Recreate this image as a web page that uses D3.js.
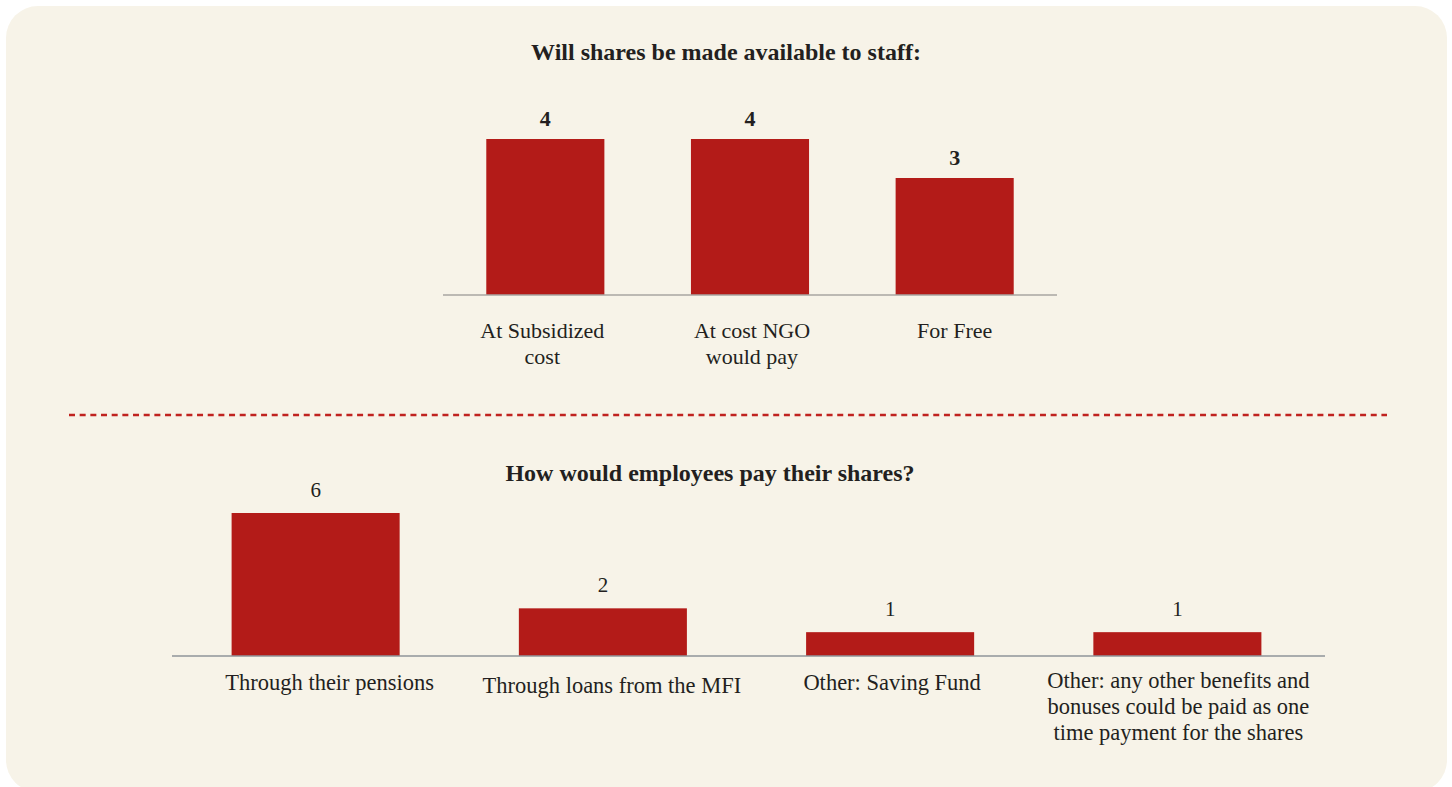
<!DOCTYPE html>
<html>
<head>
<meta charset="utf-8">
<script src="https://cdn.jsdelivr.net/npm/d3@7"></script>
<style>
  html, body { margin: 0; padding: 0; background: #ffffff; }
  svg { display: block; }
  text { font-family: "Liberation Serif", "Times New Roman", serif; fill: #231f20; }
</style>
</head>
<body>
<svg id="chart" width="1452" height="787"></svg>
<script>
// Survey results: share availability to staff
const shareCategories = [["At Subsidized", "cost"], ["At cost NGO", "would pay"], ["For Free"]];
const shareValues = [4, 4, 3];
const shareTitle = "Will shares be made available to staff:";

// Survey results: payment methods
const payCategories = [
  ["Through their pensions"],
  ["Through loans from the MFI"],
  ["Other: Saving Fund"],
  ["Other: any other benefits and", "bonuses could be paid as one", "time payment for the shares"]
];
const payValues = [6, 2, 1, 1];
const payTitle = "How would employees pay their shares?";

const BAR = "#b31b18";
const svg = d3.select("#chart");

// Panel background
svg.append("rect")
  .attr("x", 6).attr("y", 6)
  .attr("width", 1441).attr("height", 786)
  .attr("rx", 32).attr("ry", 32)
  .attr("fill", "#f7f3e8");

function barChart(cfg) {
  const g = svg.append("g");
  const keys = cfg.values.map((d, i) => i);
  const x = d3.scaleBand().domain(keys).range([cfg.x0, cfg.x1])
    .paddingInner(cfg.pad).paddingOuter(cfg.pad / 2);
  const y = d3.scaleLinear().domain([0, cfg.max]).range([cfg.base, cfg.top]);
  const dx = i => (cfg.labelDx ? cfg.labelDx[i] : 0);
  const dy = i => (cfg.labelDy ? cfg.labelDy[i] : 0);

  g.append("text")
    .attr("x", cfg.titleX).attr("y", cfg.titleY)
    .attr("text-anchor", "middle")
    .attr("font-weight", "bold")
    .attr("font-size", cfg.titleSize)
    .text(cfg.title);

  g.selectAll("rect.bar").data(cfg.values).join("rect")
    .attr("class", "bar")
    .attr("x", (d, i) => x(i))
    .attr("width", x.bandwidth())
    .attr("y", d => y(d))
    .attr("height", d => y(0) - y(d))
    .attr("fill", BAR);

  // category baseline
  g.append("line")
    .attr("x1", cfg.x0).attr("x2", cfg.axisEnd)
    .attr("y1", y(0)).attr("y2", y(0))
    .attr("stroke", cfg.axisColor).attr("stroke-width", 1.6);

  g.selectAll("text.val").data(cfg.values).join("text")
    .attr("class", "val")
    .attr("x", (d, i) => x(i) + x.bandwidth() / 2)
    .attr("y", d => y(d) - cfg.valGap)
    .attr("text-anchor", "middle")
    .attr("font-size", cfg.valSize)
    .attr("font-weight", cfg.valWeight)
    .text(d => d);

  const lbl = g.selectAll("text.cat").data(cfg.categories).join("text")
    .attr("class", "cat")
    .attr("x", (d, i) => x(i) + x.bandwidth() / 2 + dx(i))
    .attr("y", (d, i) => y(0) + cfg.labelGap + dy(i))
    .attr("text-anchor", "middle")
    .attr("font-size", cfg.labelSize);
  lbl.selectAll("tspan").data(d => d).join("tspan")
    .attr("x", function () { return this.parentNode.getAttribute("x"); })
    .attr("dy", (d, i) => i === 0 ? 0 : cfg.lineH)
    .text(d => d);
}

barChart({
  title: shareTitle, titleX: 726, titleY: 60, titleSize: 24,
  values: shareValues, categories: shareCategories, max: 4,
  x0: 443, x1: 1057, axisEnd: 1057, pad: 0.423, base: 295, top: 139,
  axisColor: "#a8a6a2", valGap: 13, valSize: 22, valWeight: "bold",
  labelGap: 43, labelSize: 22, lineH: 26, labelDx: [-3, 2, 0]
});

// dashed separator
svg.append("line")
  .attr("x1", 69).attr("x2", 1387)
  .attr("y1", 415).attr("y2", 415)
  .attr("stroke", "#c0221f")
  .attr("stroke-width", 2.5)
  .attr("stroke-dasharray", "6 4.67");

barChart({
  title: payTitle, titleX: 710, titleY: 481, titleSize: 24,
  values: payValues, categories: payCategories, max: 6,
  x0: 172, x1: 1321, axisEnd: 1325, pad: 0.415, base: 656, top: 513,
  axisColor: "#8f949a", valGap: 16, valSize: 21, valWeight: "normal",
  labelGap: 34, labelSize: 22.5, lineH: 26,
  labelDx: [14, 9, 2, 1], labelDy: [0, 3, 0, -2]
});
</script>
</body>
</html>
